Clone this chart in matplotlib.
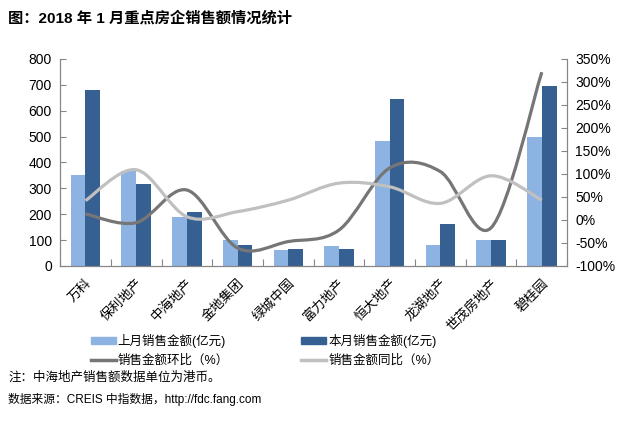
import matplotlib
matplotlib.use('Agg')
import matplotlib.pyplot as plt
import numpy as np
from matplotlib.path import Path
from matplotlib.patches import PathPatch, Patch
from matplotlib.lines import Line2D
from matplotlib.ticker import FuncFormatter

plt.rcParams['font.family'] = ['Liberation Sans', 'Noto Sans CJK SC']

companies = ['万科', '保利地产', '中海地产', '金地集团', '绿城中国',
             '富力地产', '恒大地产', '龙湖地产', '世茂房地产', '碧桂园']
last_month = [350, 368, 188, 100, 62, 78, 484, 81, 100, 497]
this_month = [680, 315, 208, 82, 65, 65, 645, 161, 100, 695]
mom_pct = [13, -6, 65, -61, -47, -22, 113, 105, -17, 321]
yoy_pct = [42, 109, 7, 18, 43, 80, 72, 36, 96, 43]

c_light = '#8DB3E2'
c_dark = '#376092'
c_mom = '#767676'
c_yoy = '#C0C0C0'
c_axis = '#868686'


def smooth_path(xs, ys):
    # Excel-style smoothed line: cubic bezier through every point
    pts = np.column_stack([xs, ys]).astype(float)
    n = len(pts)
    verts = [pts[0]]
    codes = [Path.MOVETO]
    for i in range(n - 1):
        p0 = pts[i - 1] if i > 0 else pts[i]
        p1 = pts[i]
        p2 = pts[i + 1]
        p3 = pts[i + 2] if i + 2 < n else pts[i + 1]
        verts += [p1 + (p2 - p0) / 6, p2 - (p3 - p1) / 6, p2]
        codes += [Path.CURVE4] * 3
    return Path(verts, codes)


fig = plt.figure(figsize=(6.26, 4.36), dpi=100)
ax1 = fig.add_axes([0.096, 0.39, 0.81, 0.475])
ax2 = ax1.twinx()

x = np.arange(len(companies))
w = 0.29
ax1.bar(x - w / 2, last_month, w, color=c_light, zorder=2)
ax1.bar(x + w / 2, this_month, w, color=c_dark, zorder=2)

ax2.add_patch(PathPatch(smooth_path(x, mom_pct), fill=False, edgecolor=c_mom, lw=2.3))
ax2.add_patch(PathPatch(smooth_path(x, yoy_pct), fill=False, edgecolor=c_yoy, lw=2.3))

ax1.set_xlim(-0.5, len(companies) - 0.5)
ax1.set_ylim(0, 800)
ax1.set_yticks(range(0, 801, 100))
ax2.set_ylim(-100, 350)
ax2.set_yticks(range(-100, 351, 50))
ax2.yaxis.set_major_formatter(FuncFormatter(lambda v, p: f'{v:.0f}%'))

ax1.set_xticks(np.arange(len(companies) + 1) - 0.5, minor=False)
ax1.set_xticklabels([])
ax1.set_xticks(x, minor=True)
ax1.set_xticklabels(companies, minor=True, rotation=45, ha='right',
                    rotation_mode='anchor', fontsize=9.5)
ax1.tick_params(axis='x', which='minor', length=0, pad=8)
ax1.tick_params(axis='x', which='major', direction='in', length=5, color=c_axis)
ax1.tick_params(axis='y', direction='in', length=4, color=c_axis, labelsize=10, pad=6)
ax2.tick_params(axis='y', direction='in', length=4, color=c_axis, labelsize=10, pad=6)

for ax in (ax1, ax2):
    ax.spines['top'].set_visible(False)
    for s in ('left', 'right', 'bottom'):
        ax.spines[s].set_color(c_axis)

handles = [Patch(color=c_light), Line2D([], [], color=c_mom, lw=2.5),
           Patch(color=c_dark), Line2D([], [], color=c_yoy, lw=2.5)]
labels = ['上月销售金额(亿元)', '销售金额环比（%）', '本月销售金额(亿元)', '销售金额同比（%）']
fig.legend(handles, labels, ncol=2, loc='upper left', bbox_to_anchor=(0.127, 0.26),
           frameon=False, fontsize=9, handlelength=2.0, handleheight=0.6,
           handletextpad=0.15, columnspacing=5.8, labelspacing=0.55)

fig.text(0.013, 0.958, '图：2018 年 1 月重点房企销售额情况统计', fontsize=11,
         fontweight='bold', va='center')
fig.text(0.013, 0.133, '注：中海地产销售额数据单位为港币。', fontsize=9, va='center')
fig.text(0.013, 0.083, '数据来源：CREIS 中指数据，http://fdc.fang.com', fontsize=8.5, va='center')

fig.savefig('out.png', dpi=100)
